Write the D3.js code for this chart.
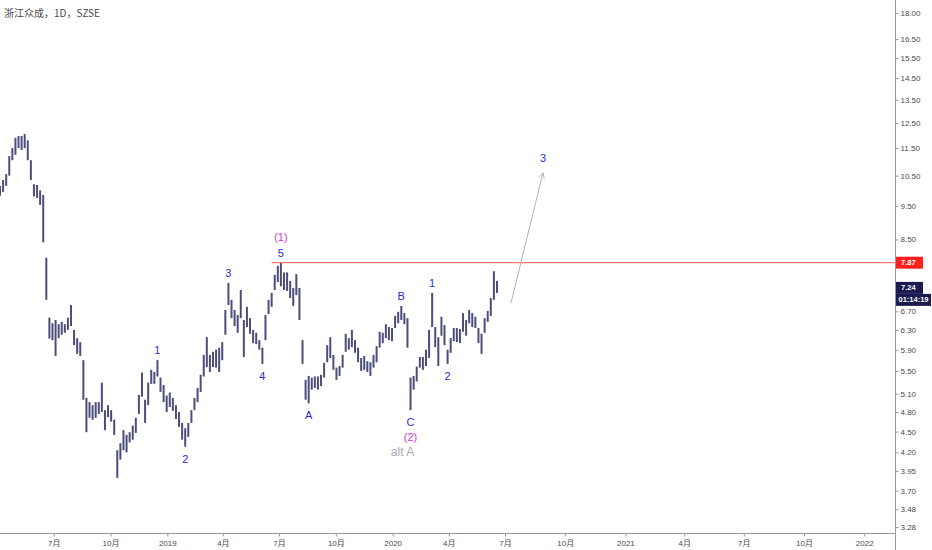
<!DOCTYPE html>
<html>
<head>
<meta charset="utf-8">
<script src="https://cdn.jsdelivr.net/npm/d3@7"></script>
<style>
  html, body { margin: 0; padding: 0; background: #fff; }
  #chart { width: 932px; height: 550px; }
  text { font-family: "Liberation Sans", "Noto Sans CJK SC", sans-serif; }
</style>
</head>
<body>
<div id="chart"></div>
<script>
// price bars, one every 5 calendar days from the start date (daily bars thinned)
const startDate = new Date(2018, 3, 5);
const barHigh = [
  10.15, 10.35, 10.55, 11.2, 11.5, 11.9, 11.97, 11.97, 12.05, 11.8,
  11.05, 10.2, 10.18, 10.0, 9.85, 8.0, 6.56, 6.44, 6.51, 6.42,
  6.47, 6.42, 6.56, 6.84, 6.30, 6.13, 6.05, 5.70, 5.03, 4.96,
  4.91, 4.96, 4.96, 5.29, 4.83, 4.91, 4.83, 4.68, 4.23, 4.33,
  4.52, 4.45, 4.49, 4.59, 4.71, 5.08, 5.47, 5.00, 5.29, 5.52,
  5.48, 5.70, 5.38, 5.25, 5.07, 5.12, 5.03, 4.91, 4.80, 4.63,
  4.55, 4.63, 4.83, 5.03, 5.20, 5.43, 5.80, 6.15, 5.80, 5.86,
  5.90, 5.94, 6.05, 6.73, 7.36, 6.96, 6.73, 6.62, 7.19, 6.51,
  6.80, 6.55, 6.30, 6.24, 6.09, 5.94, 6.62, 6.96, 7.12, 7.56,
  7.79, 7.87, 7.62, 7.62, 7.41, 7.24, 7.58, 7.24, 6.09, 5.34,
  5.41, 5.38, 5.40, 5.40, 5.43, 5.65, 5.99, 6.15, 5.80, 5.56,
  5.59, 5.80, 6.22, 6.13, 6.30, 6.09, 5.94, 5.74, 5.78, 5.68,
  5.66, 5.80, 5.97, 6.26, 6.24, 6.42, 6.36, 6.34, 6.60, 6.69,
  6.82, 6.66, 6.55, 5.38, 5.41, 5.58, 5.76, 5.76, 5.90, 6.30,
  7.12, 6.36, 6.15, 6.58, 6.40, 5.90, 6.13, 6.34, 6.34, 6.32,
  6.66, 6.51, 6.73, 6.66, 6.58, 6.34, 6.22, 6.55, 6.71, 7.00,
  7.65, 7.41
];
const barLow = [
  9.82, 9.95, 10.15, 10.5, 11.05, 11.25, 11.5, 11.43, 11.5, 11.05,
  10.35, 9.8, 9.75, 9.53, 8.42, 6.96, 6.12, 6.09, 5.78, 6.13,
  6.20, 6.24, 6.30, 6.38, 5.99, 5.82, 5.78, 5.00, 4.49, 4.71,
  4.68, 4.71, 4.77, 4.80, 4.52, 4.72, 4.65, 4.45, 3.86, 4.10,
  4.23, 4.20, 4.34, 4.38, 4.48, 4.77, 5.05, 4.63, 4.91, 5.27,
  5.27, 5.40, 5.13, 4.96, 4.80, 4.88, 4.82, 4.69, 4.57, 4.38,
  4.28, 4.42, 4.63, 4.83, 4.96, 5.13, 5.40, 5.57, 5.48, 5.57,
  5.56, 5.48, 5.70, 6.20, 6.84, 6.55, 6.38, 6.24, 6.55, 5.76,
  6.36, 6.22, 6.03, 6.01, 5.90, 5.63, 6.09, 6.64, 6.80, 7.19,
  7.38, 7.28, 7.19, 7.17, 7.00, 6.82, 7.07, 6.51, 5.63, 5.00,
  4.94, 5.17, 5.20, 5.17, 5.23, 5.38, 5.66, 5.74, 5.52, 5.34,
  5.41, 5.56, 5.86, 5.90, 5.95, 5.84, 5.66, 5.50, 5.52, 5.48,
  5.41, 5.56, 5.66, 5.94, 6.03, 6.13, 6.09, 6.07, 6.34, 6.44,
  6.51, 6.42, 5.94, 4.83, 5.17, 5.31, 5.56, 5.52, 5.59, 5.74,
  6.36, 5.95, 5.59, 6.18, 5.99, 5.63, 5.84, 6.07, 6.05, 6.03,
  6.26, 6.18, 6.44, 6.36, 6.34, 6.03, 5.82, 6.24, 6.47, 6.60,
  6.96, 7.12
];
const lastPrice = 7.24;
const countdown = "01:14:19";

// horizontal resistance level
const levelPrice = 7.87;
const levelFromBar = 88;

// wave labels
const labelBars  = [51, 60, 74, 85, 91, 91, 100, 130, 133, 133, 133, 140, 145];
const labelTexts = ["1", "2", "3", "4", "5", "(1)", "A", "B", "C", "(2)", "alt A", "1", "2"];
const labelSides = ["up", "down", "up", "down", "up", "up", "down", "up", "down", "down", "down", "up", "down"];
const labelRows  = [0, 0, 0, 0, 0, 1, 0, 0, 0, 1, 2, 0, 0];
const labelKinds = ["minor", "minor", "minor", "minor", "minor", "major", "minor", "minor", "minor", "major", "alt", "minor", "minor"];

// projected wave 3
const projDates  = [new Date(2020, 6, 10), new Date(2020, 7, 28)];
const projPrices = [6.88, 10.6];
const projText = "3";

// axes
const yTicks = [18.0, 16.5, 15.5, 14.5, 13.5, 12.5, 11.5, 10.5, 9.5, 8.5, 6.7, 6.3, 5.9, 5.5, 5.1, 4.8, 4.5, 4.2, 3.95, 3.7, 3.48, 3.28];
const xTicks = [
  new Date(2018, 6, 1), new Date(2018, 9, 1), new Date(2019, 0, 1), new Date(2019, 3, 1),
  new Date(2019, 6, 1), new Date(2019, 9, 1), new Date(2020, 0, 1), new Date(2020, 3, 1),
  new Date(2020, 6, 1), new Date(2020, 9, 1), new Date(2021, 0, 1), new Date(2021, 3, 1),
  new Date(2021, 6, 1), new Date(2021, 9, 1), new Date(2022, 0, 1)
];
const title = "浙江众成，1D，SZSE";

const W = 932, H = 550;
const plotW = 895, plotH = 533;

const barDates = barHigh.map((d, i) => d3.timeDay.offset(startDate, i * 5));

// trading-day spacing in the past, weekday spacing in the future
const xScale = d3.scaleTime()
  .domain([startDate, new Date(2020, 6, 1), new Date(2022, 1, 17)])
  .range([0, 505, plotW]);

const yScale = d3.scaleLog()
  .domain([3.216, 18.78])
  .range([plotH, 0]);

const svg = d3.select("#chart").append("svg")
  .attr("width", W).attr("height", H);

const plot = svg.append("g");

plot.append("clipPath").attr("id", "clip")
  .append("rect").attr("width", plotW).attr("height", plotH);

const marks = plot.append("g").attr("clip-path", "url(#clip)");

// bars
marks.append("g").selectAll("line")
  .data(barHigh)
  .join("line")
  .attr("x1", (d, i) => xScale(barDates[i]))
  .attr("x2", (d, i) => xScale(barDates[i]))
  .attr("y1", d => yScale(d))
  .attr("y2", (d, i) => yScale(barLow[i]))
  .attr("stroke", "#383a6c")
  .attr("stroke-opacity", 0.9)
  .attr("stroke-width", 2);

// level line
marks.append("line")
  .attr("x1", xScale(barDates[levelFromBar]))
  .attr("x2", plotW)
  .attr("y1", yScale(levelPrice))
  .attr("y2", yScale(levelPrice))
  .attr("stroke", "#f05a4f")
  .attr("stroke-width", 1);

// projection arrow
svg.append("defs").append("marker")
  .attr("id", "head")
  .attr("viewBox", "0 0 10 10")
  .attr("refX", 9).attr("refY", 5)
  .attr("markerWidth", 7).attr("markerHeight", 7)
  .attr("orient", "auto")
  .append("path")
  .attr("d", "M1,1 L9,5 L1,9")
  .attr("fill", "none")
  .attr("stroke", "#b3b3b3")
  .attr("stroke-width", 1.2);

marks.append("line")
  .attr("x1", xScale(projDates[0])).attr("y1", yScale(projPrices[0]))
  .attr("x2", xScale(projDates[1])).attr("y2", yScale(projPrices[1]))
  .attr("stroke", "#b3b3b3")
  .attr("stroke-width", 1)
  .attr("marker-end", "url(#head)");

marks.append("text")
  .attr("x", xScale(projDates[1]))
  .attr("y", yScale(projPrices[1]) - 15)
  .attr("text-anchor", "middle")
  .attr("dominant-baseline", "central")
  .attr("fill", "#2b2bd1")
  .style("font-size", "11px")
  .text(projText);

// wave labels
const kindColor = { minor: "#2b2bd1", major: "#d633d6", alt: "#ababab" };
const kindSize = { minor: "11px", major: "11px", alt: "12px" };
marks.append("g").selectAll("text")
  .data(labelTexts)
  .join("text")
  .attr("x", (d, i) => xScale(barDates[labelBars[i]]) + (labelKinds[i] === "alt" ? -8 : 0))
  .attr("y", (d, i) => {
    const b = labelBars[i];
    return labelSides[i] === "up"
      ? yScale(barHigh[b]) - 10 - 16 * labelRows[i]
      : yScale(barLow[b]) + 12 + 15 * labelRows[i];
  })
  .attr("text-anchor", "middle")
  .attr("dominant-baseline", "central")
  .attr("fill", (d, i) => kindColor[labelKinds[i]])
  .style("font-size", (d, i) => kindSize[labelKinds[i]])
  .text(d => d);

// right price axis
const yAxis = d3.axisRight(yScale)
  .tickValues(yTicks)
  .tickSize(3)
  .tickFormat(d3.format(".2f"));

const yG = svg.append("g")
  .attr("transform", `translate(${plotW + 0.5},0)`)
  .call(yAxis);
yG.select(".domain").attr("d", `M0,0V${H}`).attr("stroke", "#9598a1");
yG.selectAll(".tick line").attr("stroke", "#9598a1");
yG.selectAll(".tick text").attr("fill", "#4a4a4a").attr("x", 5).style("font-size", "8px");

// bottom time axis
const monthFmt = d => d.getMonth() === 0 ? d3.timeFormat("%Y")(d) : (d.getMonth() + 1) + "月";
const xAxis = d3.axisBottom(xScale)
  .tickValues(xTicks)
  .tickSize(3)
  .tickFormat(monthFmt);

const xG = svg.append("g")
  .attr("transform", `translate(0,${plotH + 0.5})`)
  .call(xAxis);
xG.select(".domain").attr("d", `M0,0H${plotW}`).attr("stroke", "#9598a1");
xG.selectAll(".tick line").attr("stroke", "#9598a1");
xG.selectAll(".tick text").attr("fill", "#4a4a4a").attr("y", 7).style("font-size", "8px");

// price axis labels
function axisTag(price, text, fill, dy, w, tx) {
  const g = svg.append("g")
    .attr("transform", `translate(${plotW + 1},${yScale(price) + dy})`);
  g.append("rect")
    .attr("x", 0).attr("y", -6)
    .attr("width", w).attr("height", 12)
    .attr("fill", fill);
  g.append("text")
    .attr("x", tx).attr("y", 0)
    .attr("dominant-baseline", "central")
    .attr("fill", "#fff")
    .style("font-size", "7.5px")
    .style("font-weight", "bold")
    .text(text);
}
axisTag(levelPrice, d3.format(".2f")(levelPrice), "#ff1f1f", 0, 27, 5);
axisTag(lastPrice, d3.format(".2f")(lastPrice), "#1b1b4f", 0, 27, 5);
axisTag(lastPrice, countdown, "#1b1b4f", 12, 35, 2.5);

// title
svg.append("text")
  .attr("x", 4).attr("y", 12)
  .attr("dominant-baseline", "central")
  .attr("fill", "#4a4a4a")
  .style("font-size", "10px")
  .style("font-family", "'Noto Sans CJK SC', sans-serif")
  .text(title);
</script>
</body>
</html>
